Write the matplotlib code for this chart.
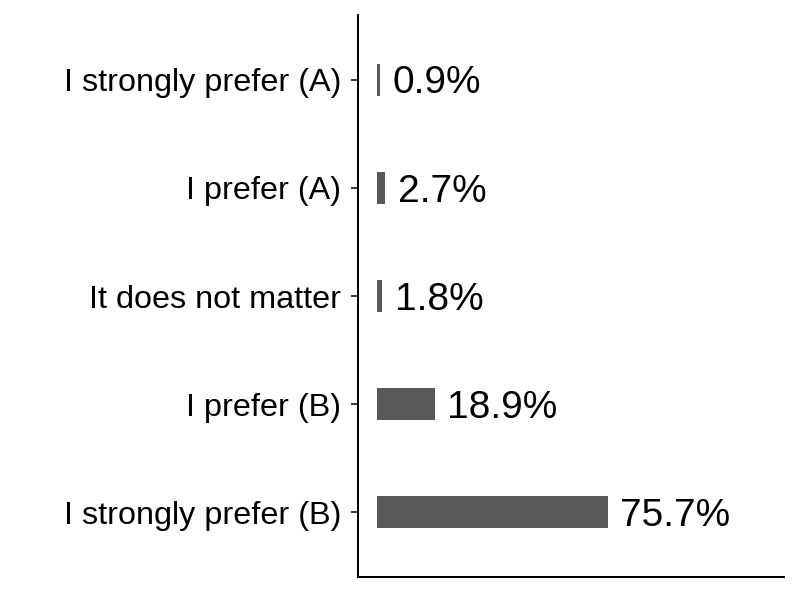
import matplotlib.pyplot as plt

categories = ["I strongly prefer (B)", "I prefer (B)", "It does not matter",
              "I prefer (A)", "I strongly prefer (A)"]
values = [75.7, 18.9, 1.8, 2.7, 0.9]
labels = ["75.7%", "18.9%", "1.8%", "2.7%", "0.9%"]

plt.rcParams['font.family'] = ['Liberation Sans', 'DejaVu Sans']

fig = plt.figure(figsize=(8, 6), dpi=100)
ax = fig.add_axes([0.4475, 0.0383, 0.5325, 0.9367])

pos = list(range(1, len(categories) + 1))
ax.barh(pos, values, height=0.3, color="#595959")
for p, v, lab in zip(pos, values, labels):
    ax.annotate(lab, (v, p), xytext=(9, -9.8), textcoords="offset points",
                va="baseline", ha="left", fontsize=28, color="black")

ax.set_xlim(-6.2, 133.4)
ax.set_ylim(0.4, 5.6)
ax.set_yticks(pos)
ax.set_yticklabels(categories, fontsize=23.3, color="black")
ax.set_xticks([])
ax.tick_params(axis="y", length=5, width=1.1, pad=7)
for s in ["top", "right"]:
    ax.spines[s].set_visible(False)
for s in ["left", "bottom"]:
    ax.spines[s].set_linewidth(1.4)

fig.savefig("out.png", dpi=100)
